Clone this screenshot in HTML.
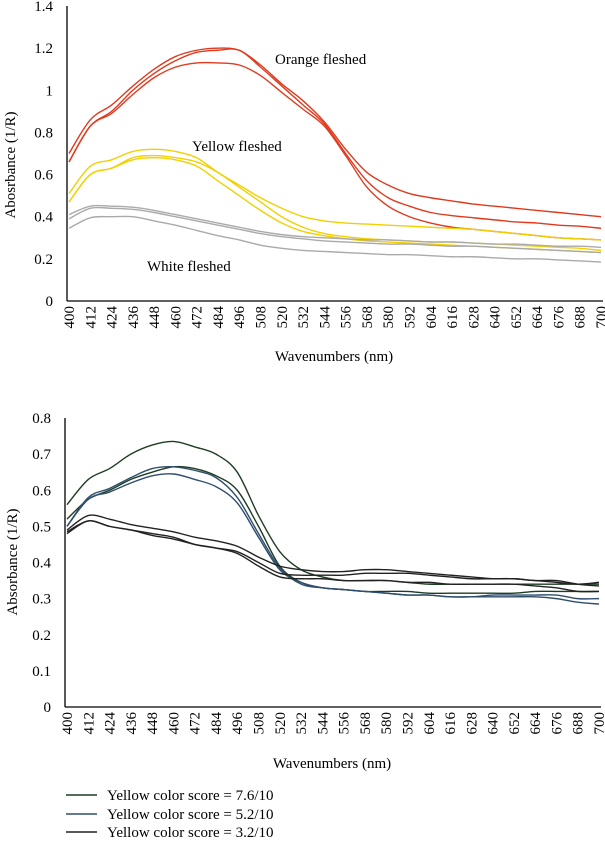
<!DOCTYPE html>
<html><head><meta charset="utf-8"><style>
html,body{margin:0;padding:0;background:#fff}
svg{display:block;font-family:"Liberation Serif",serif}
</style></head><body>
<svg id="c" width="605" height="844" viewBox="0 0 605 844"></svg>
<script>
const wavelengths=[400,412,424,436,448,460,472,484,496,508,520,532,544,556,568,580,592,604,616,628,640,652,664,676,688,700];
const topTicksY=[0,0.2,0.4,0.6,0.8,1,1.2,1.4];
const botTicksY=[0,0.1,0.2,0.3,0.4,0.5,0.6,0.7,0.8];
const orange1=[0.70,0.86,0.93,1.02,1.10,1.16,1.19,1.20,1.19,1.12,1.03,0.95,0.85,0.72,0.61,0.55,0.51,0.49,0.475,0.46,0.45,0.44,0.43,0.42,0.41,0.40];
const orange2=[0.66,0.83,0.90,1.00,1.08,1.14,1.18,1.19,1.19,1.11,1.02,0.93,0.84,0.70,0.57,0.49,0.45,0.42,0.405,0.395,0.385,0.375,0.37,0.36,0.355,0.345];
const orange3=[0.66,0.83,0.89,0.98,1.06,1.11,1.13,1.13,1.12,1.07,0.99,0.91,0.83,0.69,0.54,0.45,0.40,0.37,0.35,0.34,0.33,0.32,0.31,0.30,0.295,0.29];
const yellow1=[0.51,0.64,0.67,0.71,0.72,0.71,0.68,0.61,0.55,0.49,0.44,0.40,0.38,0.37,0.365,0.36,0.355,0.35,0.345,0.34,0.33,0.32,0.31,0.30,0.295,0.29];
const yellow2=[0.47,0.60,0.63,0.68,0.69,0.68,0.66,0.61,0.54,0.47,0.40,0.35,0.32,0.305,0.295,0.29,0.285,0.28,0.28,0.275,0.27,0.265,0.26,0.255,0.25,0.24];
const yellow3=[0.47,0.60,0.63,0.67,0.68,0.67,0.64,0.57,0.50,0.43,0.37,0.33,0.31,0.295,0.285,0.28,0.275,0.27,0.265,0.26,0.255,0.25,0.245,0.24,0.235,0.23];
const white1=[0.41,0.45,0.45,0.445,0.43,0.41,0.39,0.37,0.35,0.33,0.315,0.305,0.30,0.295,0.29,0.29,0.285,0.28,0.28,0.275,0.27,0.27,0.265,0.26,0.26,0.255];
const white2=[0.39,0.44,0.44,0.435,0.42,0.40,0.38,0.36,0.34,0.32,0.305,0.295,0.285,0.28,0.275,0.27,0.27,0.265,0.26,0.26,0.255,0.25,0.245,0.24,0.235,0.23];
const white3=[0.345,0.395,0.40,0.40,0.38,0.36,0.335,0.31,0.29,0.265,0.25,0.24,0.235,0.23,0.225,0.22,0.22,0.215,0.21,0.21,0.205,0.20,0.20,0.195,0.19,0.185];
const score76a=[0.56,0.63,0.66,0.70,0.725,0.735,0.72,0.70,0.65,0.53,0.43,0.38,0.36,0.35,0.35,0.35,0.345,0.34,0.34,0.34,0.34,0.34,0.34,0.34,0.34,0.34];
const score76b=[0.52,0.575,0.60,0.63,0.65,0.665,0.66,0.64,0.60,0.50,0.39,0.345,0.33,0.325,0.32,0.32,0.32,0.315,0.315,0.315,0.315,0.315,0.32,0.32,0.32,0.32];
const score52a=[0.50,0.58,0.605,0.635,0.66,0.665,0.655,0.635,0.58,0.48,0.385,0.34,0.33,0.325,0.32,0.315,0.31,0.31,0.305,0.305,0.31,0.31,0.31,0.31,0.30,0.30];
const score52b=[0.50,0.575,0.595,0.62,0.64,0.645,0.63,0.61,0.565,0.47,0.38,0.345,0.33,0.325,0.32,0.315,0.31,0.31,0.305,0.305,0.305,0.305,0.305,0.30,0.29,0.285];
const score32a=[0.49,0.53,0.52,0.505,0.495,0.485,0.47,0.46,0.445,0.415,0.39,0.38,0.375,0.375,0.38,0.38,0.375,0.37,0.365,0.36,0.355,0.355,0.35,0.345,0.34,0.345];
const score32b=[0.485,0.515,0.50,0.49,0.48,0.47,0.45,0.44,0.43,0.40,0.37,0.365,0.365,0.365,0.37,0.37,0.37,0.365,0.36,0.355,0.355,0.355,0.35,0.35,0.34,0.335];
const score32c=[0.48,0.515,0.50,0.49,0.475,0.465,0.45,0.44,0.425,0.39,0.36,0.355,0.355,0.35,0.35,0.35,0.345,0.345,0.34,0.34,0.34,0.34,0.335,0.33,0.32,0.32];

const svg=document.getElementById('c');
const NS='http://www.w3.org/2000/svg';
function mk(tag,attrs,parent){const e=document.createElementNS(NS,tag);for(const k in attrs)e.setAttribute(k,attrs[k]);(parent||svg).appendChild(e);return e;}
function txt(s,attrs,parent){const e=mk('text',attrs,parent);e.textContent=s;return e;}

function chart(cfg){
  const g=mk('g',{});
  
  
  const xs=v=>cfg.x0+(v-400)/300*(cfg.x1-cfg.x0);
  const ys=v=>cfg.yb-(v/cfg.ymax)*(cfg.yb-cfg.yt);
  const ya=mk('line',{x1:cfg.ax,y1:cfg.yt,x2:cfg.ax,y2:cfg.yb,stroke:'#000','stroke-width':1.3},g);
  
  const xa=mk('line',{x1:cfg.ax,y1:cfg.yb,x2:cfg.x1+2,y2:cfg.yb,stroke:'#000','stroke-width':1.3},g);
  
  cfg.yticks.forEach(v=>{
    const t=txt(String(v),{x:cfg.ax-14,y:ys(v)+5,'text-anchor':'end','font-size':15},g);
    
  });
  wavelengths.forEach(w=>{
    const x=xs(w),y=cfg.yb+5;
    const t=txt(String(w),{x:x,y:y,'text-anchor':'end','font-size':15,transform:`rotate(-90 ${x} ${y}) translate(0 5)`},g);
    
  });
  const xt=txt('Wavenumbers (nm)',{x:(cfg.ax+cfg.x1)/2,y:cfg.xtitleY,'text-anchor':'middle','font-size':15},g);
  
  const yt=txt(cfg.ytitle,{x:cfg.ytitleX,y:cfg.ytitleY,'text-anchor':'middle','font-size':15,transform:`rotate(-90 ${cfg.ytitleX} ${cfg.ytitleY})`},g);
  
  cfg.series.forEach(s=>{
    const p=wavelengths.map((w,i)=>[xs(w),ys(s.data[i])]);
    let d=`M${p[0][0]},${p[0][1]}`;
    for(let i=0;i<p.length-1;i++){
      const a=p[Math.max(0,i-1)],b=p[i],c=p[i+1],e=p[Math.min(p.length-1,i+2)];
      d+=` C${b[0]+(c[0]-a[0])/6},${b[1]+(c[1]-a[1])/6} ${c[0]-(e[0]-b[0])/6},${c[1]-(e[1]-b[1])/6} ${c[0]},${c[1]}`;
    }
    const path=mk('path',{d:d,fill:'none',stroke:s.color,'stroke-width':1.4},g);
    
    
  });
  return g;
}

chart({name:'top-chart',ax:67,x0:69,x1:601,yt:6,yb:301,ymax:1.4,yticks:topTicksY,
  ytitle:'Abosrbance (1/R)',ytitleX:15,ytitleY:165,xtitleY:361,
  series:[
    {name:'orange-line-1',color:'#e03a1e',data:orange1},
    {name:'orange-line-2',color:'#e03a1e',data:orange2},
    {name:'orange-line-3',color:'#e03a1e',data:orange3},
    {name:'yellow-line-1',color:'#f2d000',data:yellow1},
    {name:'yellow-line-2',color:'#f2d000',data:yellow2},
    {name:'yellow-line-3',color:'#f2d000',data:yellow3},
    {name:'white-line-1',color:'#aaaaaa',data:white1},
    {name:'white-line-2',color:'#aaaaaa',data:white2},
    {name:'white-line-3',color:'#aaaaaa',data:white3}
  ]});
[['Orange fleshed',275,64,'orange-fleshed-label'],['Yellow fleshed',192,151,'yellow-fleshed-label'],['White fleshed',147,271,'white-fleshed-label']].forEach(a=>{
  const t=txt(a[0],{x:a[1],y:a[2],'font-size':15});
  
});

chart({name:'bottom-chart',ax:65,x0:67,x1:599,yt:418,yb:707,ymax:0.8,yticks:botTicksY,
  ytitle:'Absorbance (1/R)',ytitleX:17,ytitleY:562,xtitleY:768,
  series:[
    {name:'score-7-6-line-1',color:'#1f3d22',data:score76a},
    {name:'score-7-6-line-2',color:'#1f3d22',data:score76b},
    {name:'score-5-2-line-1',color:'#2e4e6e',data:score52a},
    {name:'score-5-2-line-2',color:'#2e4e6e',data:score52b},
    {name:'score-3-2-line-1',color:'#222222',data:score32a},
    {name:'score-3-2-line-2',color:'#222222',data:score32b},
    {name:'score-3-2-line-3',color:'#222222',data:score32c}
  ]});

const legend=mk('g',{});


[['Yellow color score = 7.6/10','#1f3d22',800],['Yellow color score = 5.2/10','#2e4e6e',819],['Yellow color score = 3.2/10','#222222',837]].forEach((a,i)=>{
  const e=mk('g',{},legend);
  
  
  mk('line',{x1:66,y1:a[2]-5,x2:97,y2:a[2]-5,stroke:a[1],'stroke-width':1.6},e);
  txt(a[0],{x:107,y:a[2],'font-size':15},e);
});
</script>
</body></html>
